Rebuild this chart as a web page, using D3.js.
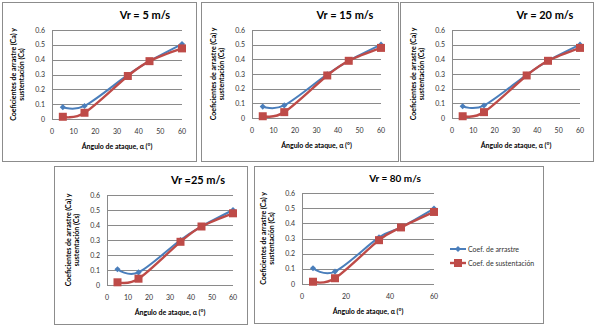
<!DOCTYPE html>
<html>
<head>
<meta charset="utf-8">
<script src="https://cdn.jsdelivr.net/npm/d3@7"></script>
<style>
  body { margin: 0; background: #fff; }
  svg { display: block; font-family: 'Lato', 'Liberation Sans', sans-serif; }
</style>
</head>
<body>
<div class="canvas"></div>
<script>
// angles of attack (x values), same for every chart
var angulos = [5, 15, 35, 45, 60];

// titles of the five charts
var titulos = ["Vr = 5 m/s", "Vr = 15 m/s", "Vr = 20 m/s", "Vr =25 m/s", "Vr = 80 m/s"];

// drag coefficient (blue) per chart
var arrastre5  = [0.080, 0.088, 0.297, 0.390, 0.505];
var arrastre15 = [0.078, 0.086, 0.298, 0.390, 0.500];
var arrastre20 = [0.080, 0.085, 0.295, 0.390, 0.500];
var arrastre25 = [0.105, 0.084, 0.300, 0.390, 0.500];
var arrastre80 = [0.104, 0.082, 0.307, 0.373, 0.497];

// lift coefficient (red) per chart
var sustent5  = [0.015, 0.042, 0.290, 0.390, 0.476];
var sustent15 = [0.012, 0.040, 0.290, 0.390, 0.478];
var sustent20 = [0.012, 0.040, 0.290, 0.390, 0.478];
var sustent25 = [0.018, 0.042, 0.288, 0.390, 0.478];
var sustent80 = [0.015, 0.038, 0.289, 0.373, 0.475];

var yTicks = [0, 0.1, 0.2, 0.3, 0.4, 0.5, 0.6];
var xTicksFull = [0, 10, 20, 30, 40, 50, 60];
var xTicksWide = [0, 20, 40, 60];

var serieNombres = ["Coef. de arrastre", "Coef. de sustentación"];
var azul = "#4a7ebb", rojo = "#be4b48";

// layout of each chart box and its plot area
var panels = [
  {box: [2, 2, 194, 159],   px: [52, 182],  py: [30, 119],  tx: 145, ty: 19,  a: arrastre5,  s: sustent5,  xt: xTicksFull},
  {box: [201, 2, 197, 159], px: [252, 381], py: [30, 118],  tx: 345, ty: 19,  a: arrastre15, s: sustent15, xt: xTicksFull},
  {box: [400, 2, 193, 159], px: [452, 580], py: [30, 118],  tx: 545, ty: 19,  a: arrastre20, s: sustent20, xt: xTicksFull},
  {box: [54, 166, 193, 158], px: [107, 233], py: [195, 285], tx: 198, ty: 184, a: arrastre25, s: sustent25, xt: xTicksFull},
  {box: [254, 166, 289, 157], px: [302, 434], py: [193, 284], tx: 395, ty: 182, a: arrastre80, s: sustent80, xt: xTicksWide, legend: true}
];

var svg = d3.select(".canvas")
  .append("svg")
  .attr("width", 600)
  .attr("height", 334);

panels.forEach(function (p, i) {
  var g = svg.append("g");

  // chart border
  g.append("rect")
    .attr("x", p.box[0] + 0.5)
    .attr("y", p.box[1] + 0.5)
    .attr("width", p.box[2])
    .attr("height", p.box[3])
    .attr("fill", "#fff")
    .attr("stroke", "#8c8c8c")
    .attr("stroke-width", 1);

  var x = d3.scaleLinear().domain([0, 60]).range(p.px);
  var y = d3.scaleLinear().domain([0, 0.6]).range([p.py[1], p.py[0]]);

  // gridlines
  g.selectAll("line.grid")
    .data(yTicks)
    .enter()
    .append("line")
      .attr("x1", p.px[0])
      .attr("x2", p.px[1])
      .attr("y1", function (d) { return Math.round(y(d)) + 0.5; })
      .attr("y2", function (d) { return Math.round(y(d)) + 0.5; })
      .attr("stroke", "#8a8a8a")
      .attr("stroke-width", 1);

  // vertical axis line
  g.append("line")
    .attr("x1", p.px[0] + 0.5)
    .attr("x2", p.px[0] + 0.5)
    .attr("y1", p.py[0])
    .attr("y2", p.py[1] + 0.5)
    .attr("stroke", "#8a8a8a");

  // y tick labels
  g.selectAll("text.yt")
    .data(yTicks)
    .enter()
    .append("text")
      .attr("x", p.px[0] - 7)
      .attr("y", function (d) { return y(d) + 2.5; })
      .attr("text-anchor", "end")
      .style("font-size", "7px")
      .style("fill", "#333")
      .text(function (d) { return d === 0 ? "0" : d3.format(".1f")(d); });

  // x tick labels
  g.selectAll("text.xt")
    .data(p.xt)
    .enter()
    .append("text")
      .attr("x", function (d) { return x(d); })
      .attr("y", p.py[1] + 15)
      .attr("text-anchor", "middle")
      .style("font-size", "7px")
      .style("fill", "#333")
      .text(function (d) { return d; });

  // title
  g.append("text")
    .attr("x", p.tx)
    .attr("y", p.ty)
    .attr("text-anchor", "middle")
    .style("font-size", i === 4 ? "10px" : "11px")
    .style("font-weight", "bold")
    .text(titulos[i]);

  // x axis title
  g.append("text")
    .attr("x", (p.px[0] + p.px[1]) / 2)
    .attr("y", p.py[1] + 30)
    .attr("text-anchor", "middle")
    .style("font-size", "7px")
    .style("font-weight", "bold")
    .text("Ángulo de ataque, α (°)");

  // y axis title (two lines)
  var cy = (p.py[0] + p.py[1]) / 2;
  var yt = g.append("text")
    .attr("transform", "translate(" + (p.px[0] - 36) + "," + cy + ") rotate(-90)")
    .attr("text-anchor", "middle")
    .style("font-size", "7px")
    .style("font-weight", "bold");
  yt.append("tspan").attr("x", 0).attr("y", 0).text("Coeficientes de arrastre (Ca) y");
  yt.append("tspan").attr("x", 0).attr("y", 8).text("sustentación (Cs)");

  // Excel-style smoothed line
  var line = d3.line()
    .x(function (d) { return x(d[0]); })
    .y(function (d) { return y(d[1]); })
    .curve(d3.curveCardinal.tension(0));

  var serieA = angulos.map(function (a, k) { return [a, p.a[k]]; });
  var serieS = angulos.map(function (a, k) { return [a, p.s[k]]; });

  g.append("path")
    .attr("d", line(serieA))
    .attr("fill", "none")
    .attr("stroke", azul)
    .attr("stroke-width", 2);

  g.append("path")
    .attr("d", line(serieS))
    .attr("fill", "none")
    .attr("stroke", rojo)
    .attr("stroke-width", 2.4);

  g.selectAll("path.dia")
    .data(serieA)
    .enter()
    .append("path")
      .attr("d", d3.symbol().type(d3.symbolDiamond2).size(24))
      .attr("transform", function (d) { return "translate(" + x(d[0]) + "," + y(d[1]) + ")"; })
      .attr("fill", azul);

  g.selectAll("rect.sq")
    .data(serieS)
    .enter()
    .append("rect")
      .attr("x", function (d) { return x(d[0]) - 4; })
      .attr("y", function (d) { return y(d[1]) - 4; })
      .attr("width", 8)
      .attr("height", 8)
      .attr("fill", rojo);

  if (p.legend) {
    var lx = 450, rows = [249, 263];
    var lg = g.append("g");
    lg.append("line").attr("x1", lx).attr("x2", lx + 16).attr("y1", rows[0]).attr("y2", rows[0])
      .attr("stroke", azul).attr("stroke-width", 2);
    lg.append("path").attr("d", d3.symbol().type(d3.symbolDiamond2).size(24))
      .attr("transform", "translate(" + (lx + 8) + "," + rows[0] + ")").attr("fill", azul);
    lg.append("line").attr("x1", lx).attr("x2", lx + 16).attr("y1", rows[1]).attr("y2", rows[1])
      .attr("stroke", rojo).attr("stroke-width", 2.4);
    lg.append("rect").attr("x", lx + 4).attr("y", rows[1] - 4).attr("width", 8).attr("height", 8)
      .attr("fill", rojo);
    lg.selectAll("text")
      .data(serieNombres)
      .enter()
      .append("text")
        .attr("x", lx + 18)
        .attr("y", function (d, k) { return rows[k] + 2.5; })
        .style("font-size", "7px")
        .style("fill", "#333")
        .text(function (d) { return d; });
  }
});
</script>
</body>
</html>
